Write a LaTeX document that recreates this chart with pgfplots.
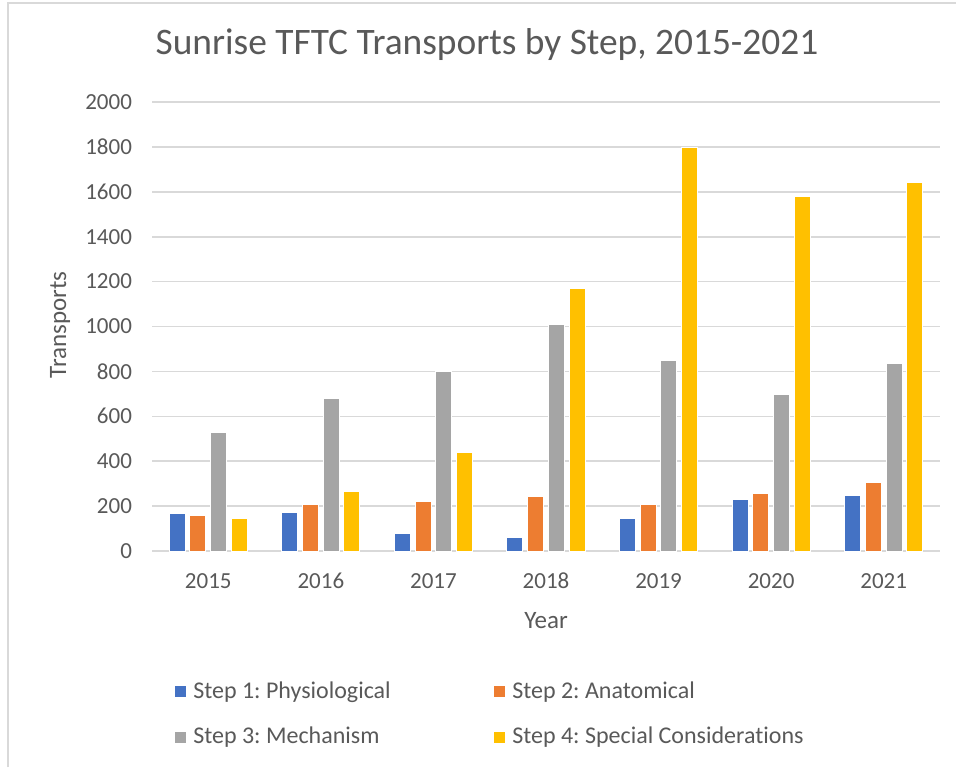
\documentclass[border=0pt]{standalone}
\usepackage{fontspec}
\setmainfont{Carlito}[Ligatures=NoCommon]
\usepackage{pgfplots}
\pgfplotsset{compat=1.18}
\usepackage{pgfplotstable}

\definecolor{sblue}{HTML}{4472C4}
\definecolor{sorange}{HTML}{ED7D31}
\definecolor{sgray}{HTML}{A5A5A5}
\definecolor{sgold}{HTML}{FFC000}
\definecolor{gridc}{HTML}{D9D9D9}
\definecolor{txt}{HTML}{595959}

% year index, then the four steps
\pgfplotstableread{
x s1 s2 s3 s4
0 166 159 530 145
1 170 209 680 265
2 79 219 800 438
3 61 244 1009 1168
4 145 207 849 1798
5 230 258 699 1578
6 246 306 836 1643
}\transports

\begin{document}
\frenchspacing
\begin{tikzpicture}
\useasboundingbox (0,0) rectangle (478pt,383.5pt);
\draw[gridc, line width=0.8pt] (4pt,0) -- (4pt,382pt) -- (478pt,382pt);

\node[font=\fontsize{18.7}{22}\selectfont, text=txt] at (243.5pt,361pt) {Sunrise TFTC Transports by Step, 2015-2021};
\node[font=\fontsize{12.5}{15}\selectfont, text=txt, rotate=90] at (30pt,221pt) {Transports};
\node[font=\fontsize{12.5}{15}\selectfont, text=txt] at (273pt,73pt) {Year};

\begin{axis}[
    at={(76pt,108pt)}, anchor=south west,
    scale only axis,
    width=394pt, height=224.5pt,
    ybar=2.35pt, bar width=8pt,
    xmin=-0.5, xmax=6.5,
    ymin=0, ymax=2000,
    xtick={0,...,6},
    xticklabels={2015,2016,2017,2018,2019,2020,2021},
    ytick={0,200,...,2000},
    axis x line*=bottom,
    axis y line*=left,
    x axis line style={draw=gridc, line width=0.8pt, -},
    y axis line style={draw=none},
    ymajorgrids=true,
    grid style={gridc, line width=0.8pt},
    major tick length=0pt,
    ticklabel style={font=\fontsize{11.5}{14}\selectfont, text=txt},
    xticklabel style={anchor=center, yshift=-15pt},
    yticklabel style={anchor=east, xshift=-6.5pt},
    /pgf/number format/assume math mode=true,
    /pgf/number format/set thousands separator={},
    legend columns=2,
    legend image code/.code={\fill[#1, draw=none] (0pt,-2.75pt) rectangle (5.5pt,2.75pt);},
    legend style={at={(0.029,-0.281)}, anchor=north west, draw=none, fill=none,
        font=\fontsize{12}{14}\selectfont, text=txt, inner sep=0pt,
        row sep=9pt},
    legend cell align=left,
]
\addplot[fill=sblue, draw=white, line width=0.5pt] table[x=x, y=s1] {\transports};
\addlegendentry{\makebox[150pt][l]{\hspace{1.5pt}Step 1: Physiological}}
\addplot[fill=sorange, draw=white, line width=0.5pt] table[x=x, y=s2] {\transports};
\addlegendentry{\hspace{1.5pt}Step 2: Anatomical}
\addplot[fill=sgray, draw=white, line width=0.5pt] table[x=x, y=s3] {\transports};
\addlegendentry{\makebox[150pt][l]{\hspace{1.5pt}Step 3: Mechanism}}
\addplot[fill=sgold, draw=white, line width=0.5pt] table[x=x, y=s4] {\transports};
\addlegendentry{\hspace{1.5pt}Step 4: Special Considerations}
\end{axis}
\end{tikzpicture}
\end{document}
